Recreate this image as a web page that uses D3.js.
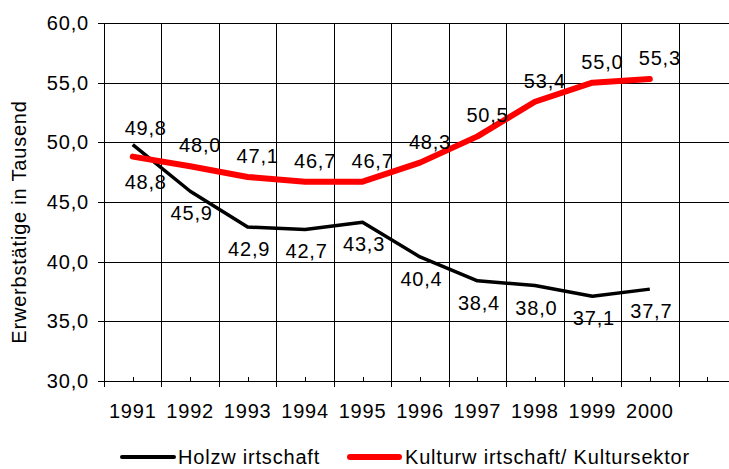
<!DOCTYPE html>
<html>
<head>
<meta charset="utf-8">
<script src="https://cdn.jsdelivr.net/npm/d3@7"></script>
<style>
  body { margin: 0; background: white; }
  text { font-family: "Liberation Sans", Arial, sans-serif; font-size: 20px; letter-spacing: 0.8px; fill: black; }
</style>
</head>
<body>
<script>
// data
var years = ["1991", "1992", "1993", "1994", "1995", "1996", "1997", "1998", "1999", "2000"];
var holz = [49.8, 45.9, 42.9, 42.7, 43.3, 40.4, 38.4, 38.0, 37.1, 37.7];
var kultur = [48.8, 48.0, 47.1, 46.7, 46.7, 48.3, 50.5, 53.4, 55.0, 55.3];
var yTicks = [30, 35, 40, 45, 50, 55, 60];

var width = 729,
  height = 469;
var margin = { top: 23, bottom: 381, left: 104, right: 736 };

var svg = d3.select('body')
  .append('svg')
  .attr('width', width)
  .attr('height', height);

var fmt = function(v) { return v.toFixed(1).replace('.', ','); };

// Scales (one empty slot after 2000, like the original)
var xScale = d3.scaleBand()
  .domain(d3.range(years.length + 1))
  .range([margin.left, margin.right])
  .padding(0);
var bw = xScale.bandwidth();
var xMid = function(i) { return xScale(i) + bw / 2; };

var yScale = d3.scaleLinear()
  .domain([30, 60])
  .range([margin.bottom, margin.top]);

//Gridlines
svg.append('g')
  .selectAll('line')
  .data(yTicks)
  .enter()
  .append('line')
  .attr('x1', margin.left - 6)
  .attr('x2', margin.right)
  .attr('y1', function(d) { return Math.round(yScale(d)) + 0.5; })
  .attr('y2', function(d) { return Math.round(yScale(d)) + 0.5; })
  .attr('stroke', 'black');

var majors = d3.range(years.length + 2);
svg.append('g')
  .selectAll('line')
  .data(majors)
  .enter()
  .append('line')
  .attr('x1', function(i) { return Math.round(xScale(i) === undefined ? margin.right : xScale(i)) + 0.5; })
  .attr('x2', function(i) { return Math.round(xScale(i) === undefined ? margin.right : xScale(i)) + 0.5; })
  .attr('y1', Math.round(yScale(60)) + 0.5)
  .attr('y2', Math.round(yScale(30)) + 6)
  .attr('stroke', 'black');

// minor ticks on x axis (pointing up)
svg.append('g')
  .selectAll('line')
  .data(d3.range(years.length + 1))
  .enter()
  .append('line')
  .attr('x1', function(i) { return Math.round(xMid(i)) + 0.5; })
  .attr('x2', function(i) { return Math.round(xMid(i)) + 0.5; })
  .attr('y1', Math.round(yScale(30)) - 4)
  .attr('y2', Math.round(yScale(30)))
  .attr('stroke', 'black');

// y tick labels
svg.append('g')
  .selectAll('text')
  .data(yTicks)
  .enter()
  .append('text')
  .attr('x', margin.left - 15)
  .attr('y', function(d) { return yScale(d); })
  .attr('text-anchor', 'end')
  .attr('dominant-baseline', 'central')
  .text(fmt);

// x tick labels
svg.append('g')
  .selectAll('text')
  .data(years)
  .enter()
  .append('text')
  .attr('x', function(d, i) { return xMid(i); })
  .attr('y', yScale(30) + 30)
  .attr('text-anchor', 'middle')
  .attr('dominant-baseline', 'central')
  .text(function(d) { return d; });

// axis title
svg.append('text')
  .attr('transform', 'translate(19,' + ((yScale(60) + yScale(30)) / 2 + 20) + ') rotate(-90)')
  .attr('text-anchor', 'middle')
  .attr('dominant-baseline', 'central')
  .text('Erwerbstätige in Tausend');

//Draw lines
var line = d3.line()
  .x(function(d, i) { return xMid(i); })
  .y(function(d) { return yScale(d); });

svg.append('path')
  .datum(holz)
  .attr('d', line)
  .attr('fill', 'none')
  .attr('stroke', 'black')
  .attr('stroke-width', 3.5)
  .attr('stroke-linejoin', 'round');

svg.append('path')
  .datum(kultur)
  .attr('d', line)
  .attr('fill', 'none')
  .attr('stroke', '#ff0000')
  .attr('stroke-width', 6)
  .attr('stroke-linecap', 'round')
  .attr('stroke-linejoin', 'round');

// data labels
svg.append('g')
  .selectAll('text')
  .data(holz)
  .enter()
  .append('text')
  .attr('x', function(d, i) { return xMid(i) + (i === 0 ? 13 : 1.5); })
  .attr('y', function(d, i) { return yScale(d) + (i === 0 ? -17 : 22); })
  .attr('text-anchor', 'middle')
  .attr('dominant-baseline', 'central')
  .text(fmt);

svg.append('g')
  .selectAll('text')
  .data(kultur)
  .enter()
  .append('text')
  .attr('x', function(d, i) { return xMid(i) + (i === 0 ? 13 : 10); })
  .attr('y', function(d, i) { return yScale(d) + (i === 0 ? 25 : -21); })
  .attr('text-anchor', 'middle')
  .attr('dominant-baseline', 'central')
  .text(fmt);

// Handmade legend
var legY = 457;
svg.append('line').attr('x1', 122).attr('x2', 174).attr('y1', legY).attr('y2', legY)
  .attr('stroke', 'black').attr('stroke-width', 4).attr('stroke-linecap', 'round');
svg.append('text').attr('x', 178).attr('y', legY).attr('dominant-baseline', 'central').text('Holzw irtschaft');
svg.append('line').attr('x1', 350).attr('x2', 399).attr('y1', legY).attr('y2', legY)
  .attr('stroke', '#ff0000').attr('stroke-width', 6).attr('stroke-linecap', 'round');
svg.append('text').attr('x', 405).attr('y', legY).attr('dominant-baseline', 'central').text('Kulturw irtschaft/ Kultursektor');
</script>
</body>
</html>
